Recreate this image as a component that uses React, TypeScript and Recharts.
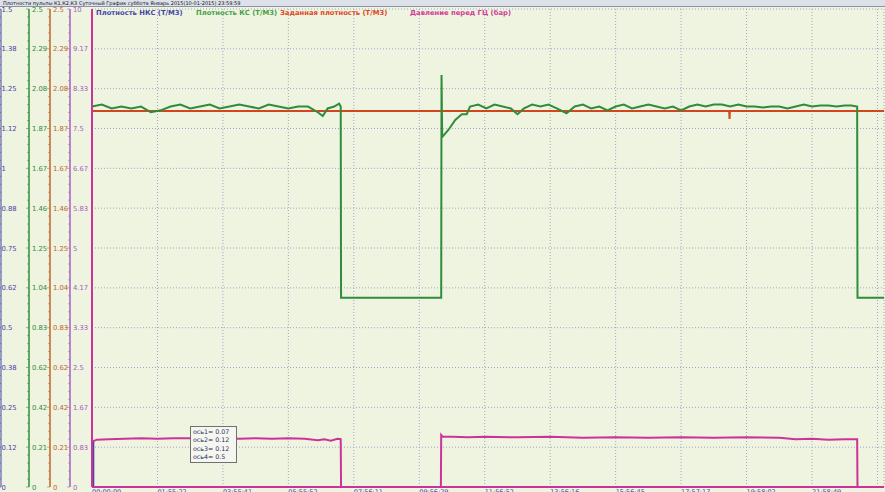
import * as React from "react";
import { LineChart, Line, XAxis, YAxis, CartesianGrid } from "recharts";

const titleText =
  "Плотности пульпы К1,К2,К3 Суточный График  суббота Январь 2015(10-01-2015) 23:59:59";

const seriesNames = [
  "Плотность НКС (Т/М3)",
  "Плотность КС (Т/М3)",
  "Заданная плотность (Т/М3)",
  "Давление перед ГЦ (бар)",
];

const timeTicks = [0, 2, 4, 6, 8, 10, 12, 14, 16, 18, 20, 22, 24];
const timeLabels = [
  "00:00:00", "01:55:22", "03:55:41", "05:55:52", "07:56:11", "09:56:29",
  "11:56:52", "13:56:16", "15:56:45", "17:57:17", "19:58:02", "21:58:49", "",
];

// labels top -> bottom
const axis1Labels = ["1.5", "1.38", "1.25", "1.12", "1", "0.88", "0.75", "0.62", "0.5", "0.38", "0.25", "0.12", "0"];
const axis2Labels = ["2.5", "2.29", "2.08", "1.87", "1.67", "1.46", "1.25", "1.04", "0.83", "0.62", "0.42", "0.21", "0"];
const axis3Labels = ["2.5", "2.29", "2.08", "1.87", "1.67", "1.46", "1.25", "1.04", "0.83", "0.62", "0.42", "0.21", "0"];
const axis4Labels = ["10", "9.17", "8.33", "7.5", "6.67", "5.83", "5", "4.17", "3.33", "2.5", "1.67", "0.83", "0"];

const cursorValues = ["ось1= 0.07", "ось2= 0.12", "ось3= 0.12", "ось4= 0.5"];

// [hour, value]
const nksDensity: [number, number][] = [
  [0.04, 0.144],
  [0.04, 0],
];

const ksDensity: [number, number][] = [
  [0, 1.99], [0.3, 2.0], [0.6, 1.98], [0.9, 1.99], [1.2, 1.98], [1.5, 1.99],
  [1.8, 1.96], [2.1, 1.97], [2.4, 1.99], [2.7, 2.0], [3.0, 1.98], [3.3, 1.99],
  [3.6, 2.0], [3.9, 1.98], [4.2, 1.99], [4.5, 2.0], [4.8, 1.99], [5.1, 1.98],
  [5.4, 2.0], [5.7, 1.99], [6.0, 1.98], [6.3, 1.99], [6.6, 1.99], [6.9, 1.96],
  [7.05, 1.94], [7.2, 1.98], [7.4, 1.99], [7.55, 2.005], [7.6, 1.99],
  [7.61, 0.99], [10.67, 0.99],
  [10.68, 2.155], [10.7, 1.83], [10.9, 1.87], [11.1, 1.92], [11.3, 1.95],
  [11.45, 1.95], [11.55, 1.99], [11.8, 2.0], [12.05, 1.98], [12.3, 2.0],
  [12.55, 1.99], [12.8, 1.98], [13.0, 1.95], [13.2, 1.98], [13.45, 2.0],
  [13.7, 1.99], [13.95, 2.0], [14.2, 1.98], [14.5, 1.955], [14.75, 1.99],
  [15.0, 2.0], [15.25, 1.98], [15.5, 1.99], [15.75, 1.97], [16.0, 1.99],
  [16.25, 2.0], [16.5, 1.98], [16.75, 1.99], [17.0, 2.0], [17.25, 1.99],
  [17.5, 1.98], [17.75, 1.99], [18.0, 1.97], [18.25, 1.99], [18.5, 2.0],
  [18.75, 1.99], [19.0, 2.0], [19.25, 2.0], [19.5, 1.99], [19.75, 2.0],
  [20.0, 1.99], [20.25, 1.99], [20.5, 1.985], [20.75, 1.99], [21.0, 1.99],
  [21.25, 1.98], [21.5, 1.99], [21.75, 2.0], [22.0, 1.99], [22.25, 1.995],
  [22.5, 1.995], [22.75, 1.99], [23.0, 1.995], [23.2, 1.995], [23.38, 1.99],
  [23.39, 0.99], [24.2, 0.99],
];

const setDensity: [number, number][] = [
  [0, 1.966], [19.47, 1.966], [19.48, 1.925], [19.49, 1.966], [24.2, 1.966],
];

const pressureBar: [number, number][] = [
  [0, 0.95], [0.15, 0.99], [0.5, 1.0], [1.0, 1.01], [1.5, 1.02], [2.0, 1.01],
  [2.5, 1.02], [3.0, 1.02], [3.5, 1.01], [4.0, 1.02], [4.5, 1.01], [5.0, 1.02],
  [5.5, 1.01], [6.0, 1.02], [6.5, 1.01], [6.9, 0.98], [7.1, 1.0], [7.3, 0.97],
  [7.5, 1.01], [7.6, 1.0], [7.61, 0], [10.66, 0], [10.67, 1.09], [10.72, 1.05],
  [11.0, 1.05], [11.5, 1.04], [12.0, 1.05], [13.0, 1.04], [14.0, 1.05],
  [15.0, 1.03], [16.0, 1.04], [17.0, 1.03], [18.0, 1.04], [19.0, 1.03],
  [20.0, 1.04], [21.0, 1.03], [21.5, 1.0], [22.0, 1.01], [22.5, 0.99],
  [23.0, 1.0], [23.38, 1.0], [23.39, 0], [24.2, 0],
];

const toRows = (pts: [number, number][]) => pts.map(([h, v]) => ({ h, v }));

const COLORS = {
  nks: "#4646a6",
  ks: "#2f8c3c",
  set: "#d2461e",
  pressure: "#cc3399",
  axis3: "#c0642c",
  axis4: "#a860c0",
  legendKs: "#45a045",
  legendSet: "#e0461e",
  legendP: "#d23c96",
  grid: "#9ea6c6",
  bg: "#eef4e0",
};

const FONT = "'DejaVu Sans', Verdana, sans-serif";
const GRID_ROWS = 12;
const MINOR = 5;

const minorTicks = (max: number) =>
  Array.from({ length: GRID_ROWS * MINOR + 1 }, (_, i) => (max * i) / (GRID_ROWS * MINOR));

const axisTick = (labels: string[], color: string, dx: number) => (props: any) => {
  const { x, y, index } = props;
  const major = index % MINOR === 0;
  return (
    <g>
      <line
        x1={x - (major ? 3 : 2)}
        x2={x}
        y1={y}
        y2={y}
        stroke={color}
        strokeWidth={0.8}
        strokeOpacity={0.7}
      />
      {major && (
        <text x={x + dx} y={y + 2.5} fontSize={6.8} fontFamily={FONT} fill={color}>
          {labels[labels.length - 1 - index / MINOR]}
        </text>
      )}
    </g>
  );
};

const timeTick = (props: any) => {
  const { x, y, index } = props;
  return (
    <text x={x} y={y + 6.5} fontSize={6.5} fontFamily={FONT} fill={COLORS.nks}>
      {timeLabels[index]}
    </text>
  );
};

const emptyTick = () => <g />;

// evenly split plot height into the 12 value rows of the axes
const rowLines = ({ offset }: any) =>
  Array.from({ length: GRID_ROWS + 1 }, (_, i) => offset.top + (offset.height * i) / GRID_ROWS);

const legendColors = [COLORS.nks, COLORS.legendKs, COLORS.legendSet, COLORS.legendP];
const legendLeft = [96, 196, 280, 410];

export default function App() {
  return (
    <div
      style={{
        position: "absolute",
        left: 0,
        top: 0,
        width: 885,
        height: 492,
        background: COLORS.bg,
        overflow: "hidden",
        fontFamily: FONT,
      }}
    >
      <LineChart
        width={885}
        height={492}
        margin={{ top: 9, right: 1, left: 0, bottom: 0 }}
      >
        <CartesianGrid
          yAxisId="y0"
          stroke={COLORS.grid}
          strokeDasharray="1 2"
          horizontalCoordinatesGenerator={rowLines}
        />
        <XAxis
          dataKey="h"
          type="number"
          domain={[0, 24.2]}
          ticks={timeTicks}
          interval={0}
          height={5}
          tickSize={0}
          tickMargin={0}
          tick={timeTick}
          axisLine={{ stroke: COLORS.pressure, strokeWidth: 2 }}
          allowDuplicatedCategory={false}
        />
        {/* ids sort inner -> outer: y0 is next to the plot */}
        <YAxis
          yAxisId="y4"
          domain={[0, 1.5]}
          ticks={minorTicks(1.5)}
          interval={0}
          width={1}
          tickSize={0}
          tickMargin={0}
          tickLine={false}
          tick={axisTick(axis1Labels, COLORS.nks, 0.5)}
          axisLine={{ stroke: COLORS.nks, strokeWidth: 1 }}
        />
        <YAxis
          yAxisId="y3"
          domain={[0, 2.5]}
          ticks={minorTicks(2.5)}
          interval={0}
          width={28}
          tickSize={0}
          tickMargin={0}
          tickLine={false}
          tick={axisTick(axis2Labels, COLORS.ks, 3)}
          axisLine={{ stroke: COLORS.ks, strokeWidth: 1.5 }}
        />
        <YAxis
          yAxisId="y2"
          domain={[0, 2.5]}
          ticks={minorTicks(2.5)}
          interval={0}
          width={21}
          tickSize={0}
          tickMargin={0}
          tickLine={false}
          tick={axisTick(axis3Labels, COLORS.axis3, 3)}
          axisLine={{ stroke: COLORS.axis3, strokeWidth: 1.5 }}
        />
        <YAxis
          yAxisId="y1"
          domain={[0, 10]}
          ticks={minorTicks(10)}
          interval={0}
          width={20}
          tickSize={0}
          tickMargin={0}
          tickLine={false}
          tick={axisTick(axis4Labels, COLORS.axis4, 3)}
          axisLine={{ stroke: COLORS.axis4, strokeWidth: 1.5 }}
        />
        <YAxis
          yAxisId="y0"
          domain={[0, GRID_ROWS]}
          width={22}
          tickSize={0}
          tickLine={false}
          tick={emptyTick}
          axisLine={{ stroke: COLORS.pressure, strokeWidth: 2 }}
        />
        <Line
          yAxisId="y4"
          data={toRows(nksDensity)}
          dataKey="v"
          type="linear"
          stroke={COLORS.nks}
          strokeWidth={2}
          dot={false}
          isAnimationActive={false}
        />
        <Line
          yAxisId="y1"
          data={toRows(pressureBar)}
          dataKey="v"
          type="linear"
          stroke={COLORS.pressure}
          strokeWidth={2}
          dot={false}
          isAnimationActive={false}
        />
        <Line
          yAxisId="y2"
          data={toRows(setDensity)}
          dataKey="v"
          type="linear"
          stroke={COLORS.set}
          strokeWidth={2}
          dot={false}
          isAnimationActive={false}
        />
        <Line
          yAxisId="y3"
          data={toRows(ksDensity)}
          dataKey="v"
          type="linear"
          stroke={COLORS.ks}
          strokeWidth={2}
          dot={false}
          isAnimationActive={false}
        />
      </LineChart>

      <div
        style={{
          position: "absolute",
          left: 0,
          top: 0,
          width: 885,
          height: 6,
          background: "#dde1ea",
          borderBottom: "1px solid #8c93a6",
          fontSize: 5,
          lineHeight: "6px",
          color: "#111",
          paddingLeft: 3,
          whiteSpace: "nowrap",
        }}
      >
        {titleText}
      </div>

      {seriesNames.map((name, i) => (
        <div
          key={name}
          style={{
            position: "absolute",
            left: legendLeft[i],
            top: 9,
            fontSize: 6.8,
            fontWeight: 600,
            color: legendColors[i],
            whiteSpace: "nowrap",
          }}
        >
          {name}
        </div>
      ))}

      <div
        style={{
          position: "absolute",
          left: 190,
          top: 426,
          width: 43,
          padding: "1px 0 1px 2px",
          background: "#f6f6f0",
          border: "1px solid #707070",
          fontSize: 6.3,
          lineHeight: "8.3px",
          color: "#2a2a60",
          whiteSpace: "nowrap",
        }}
      >
        {cursorValues.map((t) => (
          <div key={t}>{t}</div>
        ))}
      </div>
    </div>
  );
}
